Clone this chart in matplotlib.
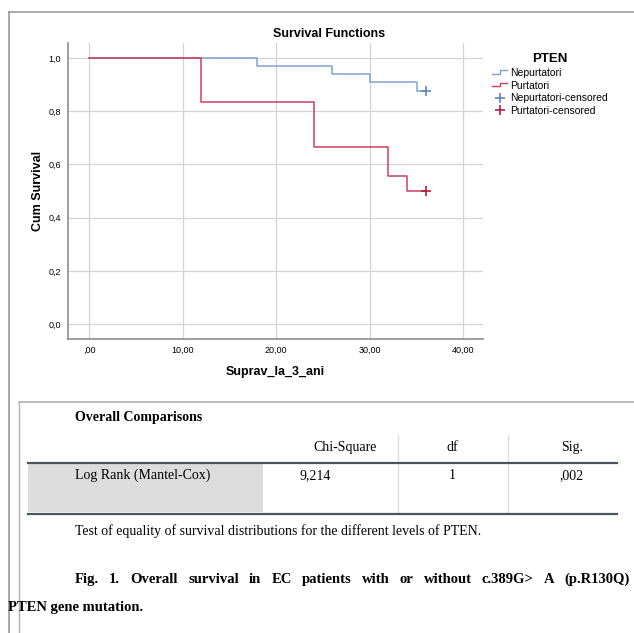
import matplotlib.pyplot as plt
from matplotlib.lines import Line2D
from matplotlib.legend_handler import HandlerBase

# survival estimates
nep_time = [0, 18, 26, 30, 35, 36]
nep_surv = [1.0, 0.971, 0.940, 0.908, 0.877, 0.877]
pur_time = [0, 12, 24, 32, 34, 36]
pur_surv = [1.0, 0.833, 0.667, 0.556, 0.500, 0.500]
nep_cens = ([36], [0.877])
pur_cens = ([36], [0.500])

xticks = [0, 10, 20, 30, 40]
xtick_labels = [",00", "10,00", "20,00", "30,00", "40,00"]
yticks = [0.0, 0.2, 0.4, 0.6, 0.8, 1.0]
ytick_labels = ["0,0", "0,2", "0,4", "0,6", "0,8", "1,0"]

table_cols = ["Chi-Square", "df", "Sig."]
table_row = ["Log Rank (Mantel-Cox)", "9,214", "1", ",002"]

BLUE = "#7fa3d1"
RED = "#cf3d61"
SANS = ["Liberation Sans Narrow", "Liberation Sans", "DejaVu Sans"]
SERIF = ["Liberation Serif", "DejaVu Serif"]


class StepHandler(HandlerBase):
    # SPSS style step glyph in the legend
    def create_artists(self, legend, orig, xd, yd, w, h, fs, trans):
        c = orig.get_color()
        ln = Line2D([xd, xd + w * 0.5, xd + w * 0.5, xd + w],
                    [yd + h * 0.3, yd + h * 0.3, yd + h * 0.8, yd + h * 0.8],
                    color=c, lw=1.0, transform=trans)
        return [ln]


fig = plt.figure(figsize=(6.34, 6.33), dpi=100)

# frames
W, H = 634, 633
def fx(x):
    return x / W
def fy(y):
    return 1 - y / H

fig.add_artist(Line2D([fx(9), fx(634)], [fy(12), fy(12)], color="#9a9a9a", lw=1.2))
fig.add_artist(Line2D([fx(9), fx(9)], [fy(12), fy(633)], color="#9a9a9a", lw=1.2))
fig.add_artist(Line2D([fx(19), fx(634)], [fy(402), fy(402)], color="#b0b0b0", lw=1.2))
fig.add_artist(Line2D([fx(19), fx(19)], [fy(402), fy(633)], color="#b0b0b0", lw=1.0))

ax = fig.add_axes([68 / W, 1 - 339 / H, (483 - 68) / W, (339 - 43) / H])
ax.step(nep_time, nep_surv, where="post", color=BLUE, lw=1.1, label="Nepurtatori")
ax.step(pur_time, pur_surv, where="post", color=RED, lw=1.1, label="Purtatori")
ax.plot(*nep_cens, "+", color="#5f86bf", ms=7, mew=1.2, label="Nepurtatori-censored")
ax.plot(*pur_cens, "+", color="#b01e44", ms=7, mew=1.2, label="Purtatori-censored")

ax.set_xlim(-2.25, 42.1)
ax.set_ylim(-0.056, 1.056)
ax.set_xticks(xticks)
ax.set_xticklabels(xtick_labels, family=SANS, fontsize=6.5)
ax.set_yticks(yticks)
ax.set_yticklabels(ytick_labels, family=SANS, fontsize=6.5)
ax.tick_params(length=0, pad=5)
ax.grid(True, color="#d4d4d8", lw=0.9)
ax.set_axisbelow(True)
for s in ["top", "right"]:
    ax.spines[s].set_visible(False)
for s in ["left", "bottom"]:
    ax.spines[s].set_color("#8c8c96")
    ax.spines[s].set_linewidth(1.2)

ax.set_xlabel("Suprav_la_3_ani", family=SANS, fontsize=9, fontweight="bold", labelpad=8)
ax.set_ylabel("Cum Survival", family=SANS, fontsize=9, fontweight="bold", labelpad=3)
fig.text(fx(329), fy(34), "Survival Functions", family=SANS, fontsize=9,
         fontweight="bold", ha="center", va="center")

h, l = ax.get_legend_handles_labels()
leg = fig.legend(h, l, loc="upper left", bbox_to_anchor=(fx(483), fy(44)),
                 title="PTEN", frameon=False, prop={"family": SANS, "size": 7.5},
                 handlelength=1.4, handletextpad=0.3, labelspacing=0.25,
                 handler_map={h[0]: StepHandler(), h[1]: StepHandler()})
leg.get_title().set_fontweight("bold")
leg.get_title().set_family(SANS)
leg.get_title().set_fontsize(9.5)
leg._legend_box.align = "center"

# comparison table
fig.text(fx(75), fy(418), "Overall Comparisons", family=SERIF, fontsize=10,
         fontweight="bold", va="center")
fig.add_artist(plt.Rectangle((fx(28), fy(512)), fx(263 - 28), (512 - 463) / H,
                             color="#dcdcdc", lw=0))
col_x = [345, 452, 572]
for cx, t in zip(col_x, table_cols):
    fig.text(fx(cx), fy(451), t, family=SERIF, fontsize=10, ha="center", va="baseline")
fig.text(fx(75), fy(479), table_row[0], family=SERIF, fontsize=10, va="baseline")
fig.text(fx(300), fy(479), table_row[1], family=SERIF, fontsize=10, va="baseline")
fig.text(fx(452), fy(479), table_row[2], family=SERIF, fontsize=10, ha="center", va="baseline")
fig.text(fx(572), fy(479), table_row[3], family=SERIF, fontsize=10, ha="center", va="baseline")
for vx in [398, 508]:
    fig.add_artist(Line2D([fx(vx), fx(vx)], [fy(435), fy(512)], color="#dedede", lw=1))
for hy in [463, 514]:
    fig.add_artist(Line2D([fx(28), fx(617)], [fy(hy), fy(hy)], color="#4a5560", lw=1.6))

fig.text(fx(75), fy(535), "Test of equality of survival distributions for the different levels of PTEN.",
         family=SERIF, fontsize=10, va="baseline")

# justified caption line
caption = "Fig. 1. Overall survival in EC patients with or without c.389G> A (p.R130Q)"
words = caption.split()
renderer = fig.canvas.get_renderer()
items = [fig.text(0, fy(583), w, family=SERIF, fontsize=10.5, fontweight="bold",
                  va="baseline") for w in words]
widths = [t.get_window_extent(renderer).width for t in items]
x0, x1 = 75, 630
gap = (x1 - x0 - sum(widths)) / (len(words) - 1)
x = x0
for t, wd in zip(items, widths):
    t.set_x(fx(x))
    x += wd + gap
fig.text(fx(8), fy(611), "PTEN gene mutation.", family=SERIF, fontsize=10.5,
         fontweight="bold", va="baseline")

fig.savefig("out.png", dpi=100)
